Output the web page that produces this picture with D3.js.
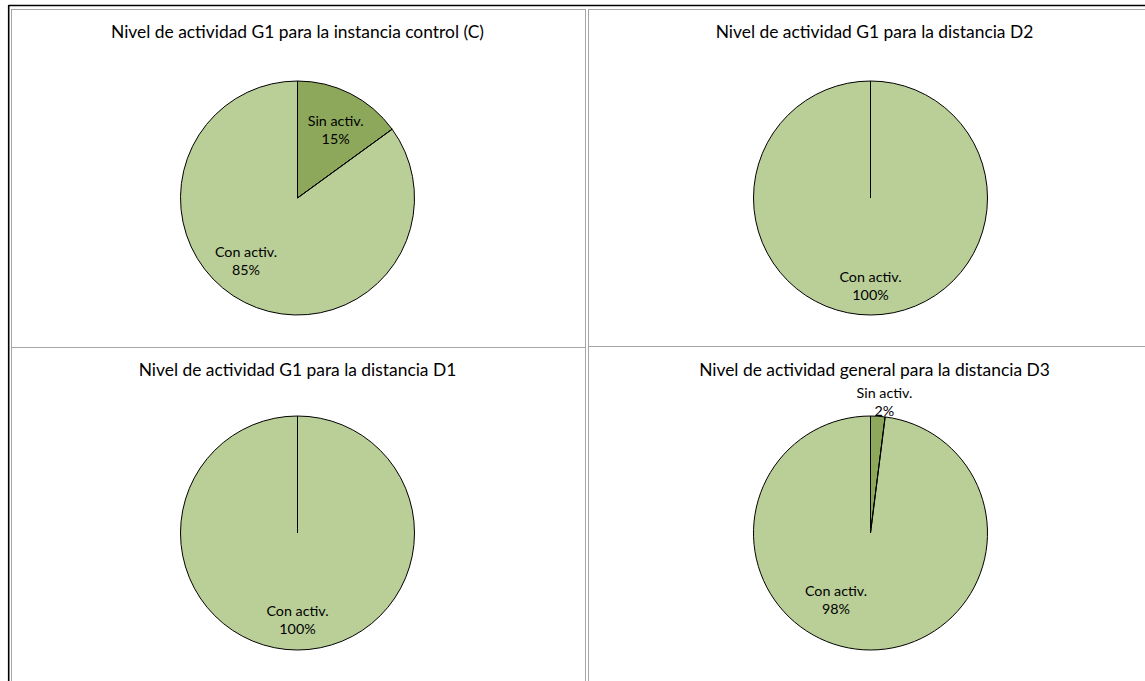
<!DOCTYPE html>
<html>
<head>
<meta charset="utf-8">
<script src="https://cdn.jsdelivr.net/npm/d3@7"></script>
<style>
  html, body { margin: 0; padding: 0; background: #fff; }
  svg { display: block; }
  text { font-family: Lato, "Open Sans", sans-serif; fill: #000; }
</style>
</head>
<body>
<svg id="chart" width="1145" height="681"></svg>
<script>
// Activity level per instance: share of observations without / with activity (%)
const instances = ["C", "D2", "D1", "D3"];
const titles = [
  "Nivel de actividad G1 para la instancia control (C)",
  "Nivel de actividad G1 para la distancia D2",
  "Nivel de actividad G1 para la distancia D1",
  "Nivel de actividad general para la distancia D3"
];
const categories = ["Sin activ.", "Con activ."];
const sinActiv = [15, 0, 0, 2];
const conActiv = [85, 100, 100, 98];

// Layout: 2x2 grid of chart panels
const W = 1145, H = 681;
const panelW = 574, panelH = 338;
const panelX = [11.5, 588.5, 11.5, 588.5];
const panelY = [9.5, 9.5, 347.5, 346.5];
const pieCx = [297.5, 870.5, 297.5, 870.5];
const pieCy = [198, 198, 533, 533];
const titleY = [38, 38, 376, 376];
const radius = 117;
const titleSize = 17.4;
const labelSize = 14.3;

// Label placement around each slice: angular shift (deg) from the slice mid-angle
// and distance as a fraction of the radius
const labelPlacement = [
  [{ da: 2.6, rf: 0.66 }, { da: 12, rf: 0.70 }],
  [null, { da: 0, rf: 0.76 }],
  [null, { da: 0, rf: 0.745 }],
  [{ da: 2.5, rf: 1.12 }, { da: 23.4, rf: 0.65 }]
];

const colors = d3.scaleOrdinal().domain(categories).range(["#8DA85B", "#BACF98"]);

const svg = d3.select("#chart");

// Outer frame
svg.append("line").attr("x1", 8.5).attr("x2", W).attr("y1", 5.5).attr("y2", 5.5)
  .attr("stroke", "#000").attr("stroke-width", 1.6);
svg.append("line").attr("x1", 8.7).attr("x2", 8.7).attr("y1", 5).attr("y2", H)
  .attr("stroke", "#000").attr("stroke-width", 1.6);

const pie = d3.pie().sort(null).value(d => d.value);
const arc = d3.arc().innerRadius(0).outerRadius(radius);

instances.forEach((inst, i) => {
  const g = svg.append("g");

  g.append("rect")
    .attr("x", panelX[i]).attr("y", panelY[i])
    .attr("width", panelW).attr("height", panelH)
    .attr("fill", "#fff").attr("stroke", "#A6A6A6").attr("stroke-width", 1);

  g.append("text")
    .attr("x", panelX[i] + panelW / 2 - 1)
    .attr("y", titleY[i])
    .attr("text-anchor", "middle")
    .attr("font-size", titleSize)
    .text(titles[i]);

  const rows = categories.map((c, k) => ({
    category: c,
    value: k === 0 ? sinActiv[i] : conActiv[i],
    k
  }));
  const arcs = pie(rows);

  const pg = g.append("g").attr("transform", `translate(${pieCx[i]},${pieCy[i]})`);

  pg.selectAll("path.slice")
    .data(arcs.filter(a => a.data.value > 0))
    .join("path")
    .attr("class", "slice")
    .attr("d", arc)
    .attr("fill", d => colors(d.data.category))
    .attr("stroke", "#000")
    .attr("stroke-width", 1)
    .attr("stroke-linejoin", "round");

  // Radial edge at the start of each slice (visible even when one slice fills the pie)
  pg.selectAll("line.edge")
    .data(arcs.filter(a => a.data.value > 0))
    .join("line")
    .attr("class", "edge")
    .attr("x1", 0).attr("y1", 0)
    .attr("x2", d => radius * Math.sin(d.startAngle))
    .attr("y2", d => -radius * Math.cos(d.startAngle))
    .attr("stroke", "#000").attr("stroke-width", 1);

  arcs.forEach(a => {
    if (a.data.value <= 0) return;
    const p = labelPlacement[i][a.data.k];
    const ang = (a.startAngle + a.endAngle) / 2 + p.da * Math.PI / 180;
    const r = p.rf * radius;
    const x = r * Math.sin(ang);
    const y = -r * Math.cos(ang);
    const t = pg.append("text")
      .attr("text-anchor", "middle")
      .attr("font-size", labelSize);
    t.append("tspan").attr("x", x).attr("y", y - 4.5).text(a.data.category);
    t.append("tspan").attr("x", x).attr("y", y + 13.5).text(a.data.value + "%");
  });
});
</script>
</body>
</html>
